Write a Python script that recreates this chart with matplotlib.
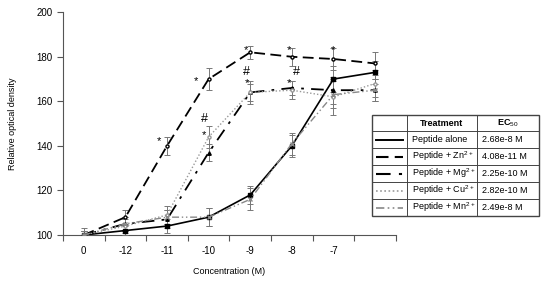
import numpy as np
import matplotlib
matplotlib.use('Agg')
import matplotlib.pyplot as plt
from matplotlib.lines import Line2D

plt.rcParams['font.family'] = ['Liberation Sans', 'DejaVu Sans']
plt.rcParams['mathtext.fontset'] = 'custom'
plt.rcParams['mathtext.rm'] = 'Liberation Sans'
plt.rcParams['mathtext.default'] = 'rm'

# concentration categories (last slot has no label)
conc = ['0', '-12', '-11', '-10', '-9', '-8', '-7', '']

alone = [100, 102, 104, 108, 118, 140, 170, 173]
alone_err = [2, 2, 3, 4, 4, 5, 6, 5]
zn = [100, 108, 140, 170, 182, 180, 179, 177]
zn_err = [2, 3, 4, 5, 3, 4, 5, 5]
mg = [100, 105, 107, 137, 164, 166, 165, 165]
mg_err = [2, 3, 4, 4, 4, 3, 6, 5]
cu = [100, 104, 109, 144, 164, 165, 162, 168]
cu_err = [3, 3, 4, 5, 5, 4, 8, 6]
mn = [100, 105, 108, 108, 116, 141, 163, 165]
mn_err = [2, 3, 3, 4, 5, 5, 6, 5]

treatments = ['Peptide alone', 'Peptide + Zn$^{2+}$', 'Peptide + Mg$^{2+}$',
              'Peptide + Cu$^{2+}$', 'Peptide + Mn$^{2+}$']
ec50 = ['2.68e-8 M', '4.08e-11 M', '2.25e-10 M', '2.82e-10 M', '2.49e-8 M']

# significance marks: (category index, y, symbol)
marks = [(1.8, 142, '*'), (2.7, 169, '*'), (3.9, 183, '*'), (4.93, 183, '*'),
         (5.98, 183, '*'),
         (2.88, 145, '*'), (2.9, 152, '#'), (3.92, 168, '*'), (3.92, 173, '#'),
         (4.93, 168, '*'), (5.1, 173, '#')]

styles = [
    dict(color='black', ls='-', lw=1.2, marker='s', ms=2.5, mfc='black'),
    dict(color='black', ls=(0, (6, 3)), lw=1.3, marker='o', ms=2.2, mfc='white'),
    dict(color='black', ls=(0, (7, 4, 1.5, 4)), lw=1.3, marker='^', ms=2.5, mfc='black'),
    dict(color='#999999', ls=(0, (1, 1.5)), lw=1.0, marker='o', ms=2.2, mfc='white'),
    dict(color='#888888', ls=(0, (5, 2, 1, 2, 1, 2)), lw=1.0, marker='x', ms=2.5, mfc='none'),
]

fig = plt.figure(figsize=(5.59, 2.82), dpi=100)
ax = fig.add_axes([0.1127, 0.1667, 0.5955, 0.79])

x = np.arange(len(conc))
series = [(alone, alone_err), (zn, zn_err), (mg, mg_err), (cu, cu_err), (mn, mn_err)]
for (vals, errs), st in zip(series, styles):
    ax.errorbar(x, vals, yerr=errs, ecolor='#777777', elinewidth=0.7, capsize=2,
                capthick=0.7, zorder=3, **st)

for xi, yi, s in marks:
    ax.text(xi, yi, s, ha='center', va='center',
            fontsize=9 if s == '#' else 8, color='black')

ax.set_xlim(-0.5, 7.5)
ax.set_ylim(100, 200)
ax.set_yticks(range(100, 201, 20))
ax.set_xticks(np.arange(-0.5, 8, 1))
ax.set_xticklabels([])
ax.set_xticks(x, minor=True)
ax.set_xticklabels(conc, minor=True)
ax.tick_params(axis='x', which='minor', length=0, labelsize=7, pad=8)
ax.tick_params(axis='x', which='major', length=4, color='#555555')
ax.tick_params(axis='y', labelsize=7, length=4, color='#555555')
for sp in ['top', 'right']:
    ax.spines[sp].set_visible(False)
for sp in ['left', 'bottom']:
    ax.spines[sp].set_color('#555555')
ax.set_xlabel('Concentration (M)', fontsize=6.5, labelpad=8)
ax.set_ylabel('Relative optical density', fontsize=6.5, labelpad=14)

# table legend
W, H = 559, 282
tx0, tx1, tx2, tx3 = 372, 407, 477, 539
rows = [115, 131, 148, 165, 182, 199, 216]
tax = fig.add_axes([0, 0, 1, 1])
tax.set_xlim(0, W)
tax.set_ylim(H, 0)
tax.axis('off')
tax.add_patch(plt.Rectangle((tx0, rows[0]), tx3 - tx0, rows[-1] - rows[0],
                            fill=False, ec='#444444', lw=1.0))
for r in rows[1:-1]:
    tax.plot([tx0, tx3], [r, r], color='#444444', lw=0.7)
for c in [tx1, tx2]:
    tax.plot([c, c], [rows[0], rows[-1]], color='#444444', lw=0.7)
hy = (rows[0] + rows[1]) / 2
tax.text((tx1 + tx2) / 2, hy, 'Treatment', ha='center', va='center',
         fontsize=6.5, fontweight='bold')
tax.text((tx2 + tx3) / 2, hy, 'EC$_{50}$', ha='center', va='center',
         fontsize=6.5, fontweight='bold')
for i, (name, ec) in enumerate(zip(treatments, ec50)):
    cy = (rows[i + 1] + rows[i + 2]) / 2
    st = styles[i]
    tax.add_line(Line2D([tx0 + 4, tx1 - 4], [cy, cy], color=st['color'],
                        ls=st['ls'], lw=st['lw'] + 0.2))
    tax.text(tx1 + 5, cy, name, ha='left', va='center', fontsize=6.5)
    tax.text(tx2 + 5, cy, ec, ha='left', va='center', fontsize=6.5)

fig.savefig('out.png', dpi=100)
